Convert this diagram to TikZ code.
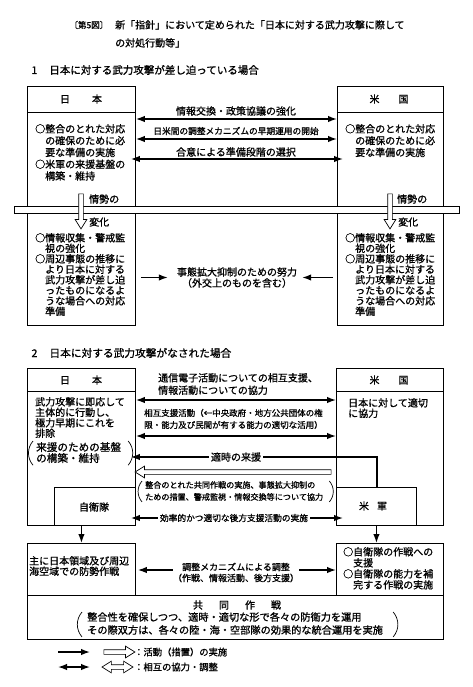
\documentclass[tikz,border=0pt]{standalone}
\usepackage{fontspec}
\newfontfamily\jp{Noto Sans CJK JP}[FakeBold=1]
\usetikzlibrary{arrows.meta,shapes.arrows}
\newcommand\jpsize[2]{\jp\fontsize{#1}{#2}\selectfont}

\begin{document}
\begin{tikzpicture}[x=1pt, y=-1pt, font=\jpsize{10}{10.5},
        box/.style={draw, line width=0.9pt, anchor=north west, inner sep=0pt},
        txt/.style={anchor=north west, inner sep=0pt, align=left},
        lbl/.style={inner sep=0pt, align=center},
        gap/.style={fill=white, inner sep=2pt},
        paren/.style={line width=0.7pt},
        act/.style={line width=1.4pt, -{Latex[length=9pt,width=6.5pt]}},
        mutual/.style={line width=1.4pt, {Latex[length=9pt,width=6.5pt]}-{Latex[length=9pt,width=6.5pt]}},
        hollow/.style={single arrow, draw, fill=white, line width=0.7pt,
          inner xsep=0pt, inner ysep=2pt, single arrow head extend=3.5pt,
          single arrow tip angle=64},
        hollowboth/.style={double arrow, draw, fill=white, line width=0.7pt,
          inner xsep=0pt, inner ysep=2pt, double arrow head extend=3.5pt,
          double arrow tip angle=64}]

\fill[white] (0,0) rectangle (472,687);
\useasboundingbox (0,0) rectangle (472,687);

% title
\node[anchor=west, font=\jpsize{8.5}{10}] (fig) at (66,25) {〔第5図〕};
\node[txt, font=\jpsize{10}{18}] (title) at (115,20)
  {新「指針」において定められた「日本に対する武力攻撃に際して\\の対処行動等」};

% 1: imminent attack
\node[anchor=west, font=\jpsize{10.5}{12}] (secA) at (28,70)
  {1\hspace{12pt}日本に対する武力攻撃が差し迫っている場合};

\node[box, minimum width=108pt, minimum height=239pt] (jpA) at (27,86) {};
\node[box, minimum width=106pt, minimum height=239pt] (usA) at (337,86) {};
\draw[line width=0.9pt] (jpA.west |- 0,112) -- (jpA.east |- 0,112);
\draw[line width=0.9pt] (usA.west |- 0,112) -- (usA.east |- 0,112);
\node (jpAh) at (81,99) {日\hspace{22pt}本};
\node (usAh) at (389,99) {米\hspace{19pt}国};

\node[txt, font=\jpsize{10}{11.8}] (jpAt) at (35,124)
  {○整合のとれた対応\\　の確保のために必\\　要な準備の実施\\○米軍の来援基盤の\\　構築・維持};
\node[txt, font=\jpsize{10}{11.8}] (usAt) at (345,124)
  {○整合のとれた対応\\　の確保のために必\\　要な準備の実施};

\node[lbl] (infoA) at (236,111) {情報交換・政策協議の強化};
\node[lbl, font=\jpsize{8.7}{10}] (mechA) at (236,131) {日米間の調整メカニズムの早期運用の開始};
\node[lbl] (prepA) at (236,152) {合意による準備段階の選択};
\coordinate (rA1) at (0,119);
\coordinate (rA2) at (0,139);
\coordinate (rA3) at (0,159);
\draw[mutual] (jpA.east |- rA1) -- (usA.west |- rA1);
\draw[mutual] (jpA.east |- rA2) -- (usA.west |- rA2);
\draw[mutual] ([xshift=-5pt]jpA.east |- rA3) -- ([xshift=6pt]usA.west |- rA3);

\node[txt] (jpAb) at (35,233)
  {○情報収集・警戒監\\　視の強化\\○周辺事態の推移に\\　より日本に対する\\　武力攻撃が差し迫\\　ったものになるよ\\　うな場合への対応\\　準備};
\node[txt] (usAb) at (345,233)
  {○情報収集・警戒監\\　視の強化\\○周辺事態の推移に\\　より日本に対する\\　武力攻撃が差し迫\\　ったものになるよ\\　うな場合への対応\\　準備};

\node[lbl, font=\jpsize{10}{11}] (ctrl) at (237,277.5)
  {事態拡大抑制のための努力\\（外交上のものを含む）};
\draw[act, shorten >=9pt] ([xshift=5pt]jpA.east |- ctrl) -- (ctrl.west);
\draw[act, shorten >=5pt] ([xshift=-4pt]usA.west |- ctrl) -- (ctrl.east);

% the change of situation
\node[draw, fill=white, line width=0.8pt, minimum width=445pt, minimum height=7pt,
      anchor=north west, inner sep=0pt] (bar) at (14,206) {};
\node[hollow, rotate=-90, minimum height=35pt] (jpAc) at (81,209.5) {};
\node[hollow, rotate=-90, minimum height=35pt] (usAc) at (390,209.5) {};
\node[anchor=west, inner sep=0pt] (jpAc1) at (89,199) {情勢の};
\node[anchor=west, inner sep=0pt] (jpAc2) at (89,222) {変化};
\node[anchor=west, inner sep=0pt] (usAc1) at (397,199) {情勢の};
\node[anchor=west, inner sep=0pt] (usAc2) at (398,222) {変化};

% 2: attack made
\node[anchor=west, font=\jpsize{10.7}{12}] (secB) at (28,353)
  {2\hspace{12pt}日本に対する武力攻撃がなされた場合};

\node[box, minimum width=108pt, minimum height=157pt] (jpB) at (27,368) {};
\node[box, minimum width=107pt, minimum height=157pt] (usB) at (336,368) {};
\draw[line width=0.9pt] (jpB.west |- 0,391) -- (jpB.east |- 0,391);
\draw[line width=0.9pt] (usB.west |- 0,391) -- (usB.east |- 0,391);
\node (jpBh) at (81,380) {日\hspace{22pt}本};
\node (usBh) at (389,380) {米\hspace{19pt}国};
\node[box, minimum width=81pt, minimum height=38pt] (sdf) at (54,487) {};
\node[box, minimum width=80pt, minimum height=38pt] (usf) at (336,487) {};
\node (sdfl) at (94,507) {自衛隊};
\node (usfl) at (373,506) {米\hspace{8pt}軍};

\node[txt] (jpBt) at (35,397)
  {武力攻撃に即応して\\主体的に行動し、\\極力早期にこれを\\排除};
\node[txt, font=\jpsize{10.6}{11}] (jpBr) at (36,442)
  {来援のための基盤\\の構築・維持};
\draw[paren] ([shift={(-3,-1)}]jpBr.north west) to[bend right=40] ([shift={(-3,2)}]jpBr.south west);
\draw[paren] ([shift={(7,-1)}]jpBr.north east) to[bend left=40] ([shift={(7,2)}]jpBr.south east);
\node[txt] (usBt) at (348,398) {日本に対して適切\\に協力};

\node[txt, font=\jpsize{10}{12.4}] (comm) at (158,373)
  {通信電子活動についての相互支援、\\情報活動についての協力};
\node[txt, font=\jpsize{8.5}{12}] (supp) at (144,408.7)
  {相互支援活動（←中央政府・地方公共団体の権\\限・能力及び民間が有する能力の適切な活用）};
\coordinate (rB1) at (0,400);
\coordinate (rB2) at (0,436);
\draw[mutual] (jpB.east |- rB1) -- (usB.west |- rB1);
\draw[mutual] (jpB.east |- rB2) -- (usB.west |- rB2);

\coordinate (rein) at (377,457);
\draw[act] (rein |- usf.north) -- (rein) -- ([xshift=-5pt]jpB.east |- rein);
\node[gap] (reinl) at (236,457) {適時の来援};

\node[hollow, rotate=180, minimum height=196pt] (coop) at (235,472) {};
\node[txt, font=\jpsize{8.1}{12}] (coopl) at (145,481)
  {整合のとれた共同作戦の実施、事態拡大抑制の\\ための措置、警戒監視・情報交換等について協力};
\draw[paren] ([shift={(-3,0)}]coopl.north west) to[bend right=40] ([shift={(-3,1)}]coopl.south west);
\draw[paren] ([shift={(6,0)}]coopl.north east) to[bend left=40] ([shift={(6,1)}]coopl.south east);

\coordinate (rB3) at (0,518);
\draw[mutual] ([xshift=-5pt]jpB.east |- rB3) -- ([xshift=7pt]usB.west |- rB3);
\node[gap, font=\jpsize{8.7}{10}] (logi) at (234,518) {効率的かつ適切な後方支援活動の実施};

% operations
\node[box, minimum width=108pt, minimum height=52pt] (jpC) at (27,543) {};
\node[box, minimum width=107pt, minimum height=52pt] (usC) at (336,543) {};
\node[box, minimum width=416pt, minimum height=44pt] (joint) at (27,595) {};
\draw[act] (jpB.south) -- (jpC.north);
\draw[act] (usf.south) -- (usf.south |- usC.north);

\node[txt] (jpCt) at (29,556) {主に日本領域及び周辺\\海空域での防勢作戦};
\node[txt, font=\jpsize{10}{11}] (usCt) at (343,547)
  {○自衛隊の作戦への\\　支援\\○自衛隊の能力を補\\　完する作戦の実施};

\node[lbl, font=\jpsize{9}{11}] (adj) at (236,572.5)
  {調整メカニズムによる調整\\（作戦、情報活動、後方支援）};
\coordinate (rC) at (0,570);
\draw[act, shorten >=2pt] (adj.west |- rC) -- (jpC.east |- rC);
\draw[act] (adj.east |- rC) -- (usC.west |- rC);

\node (jointh) at (237,605) {共\hspace{16pt}同\hspace{16pt}作\hspace{16pt}戦};
\node[txt, font=\jpsize{10.2}{13}] (jointt) at (87,612)
  {整合性を確保しつつ、適時・適切な形で各々の防衛力を運用\\その際双方は、各々の陸・海・空部隊の効果的な統合運用を実施};
\draw[paren] ([shift={(-5,0)}]jointt.north west) to[bend right=40] ([shift={(-5,2)}]jointt.south west);
\draw[paren] ([shift={(10,0)}]jointt.north east) to[bend left=40] ([shift={(10,2)}]jointt.south east);

% legend
\coordinate (kA1) at (58,652);
\coordinate (kA2) at (90,652);
\coordinate (kB1) at (58,667);
\coordinate (kB2) at (90,667);
\draw[act] (kA1) -- (kA2);
\draw[mutual] (kB1) -- (kB2);
\node[hollow, minimum height=31pt] (kA3) at (117.5,652) {};
\node[hollowboth, minimum height=31pt] (kB3) at (117.5,667) {};
\node[anchor=west, inner sep=0pt, font=\jpsize{9.3}{10}] (kAt) at (134,652) {：活動（措置）の実施};
\node[anchor=west, inner sep=0pt, font=\jpsize{9.3}{10}] (kBt) at (134,667) {：相互の協力・調整};
\end{tikzpicture}
\end{document}
